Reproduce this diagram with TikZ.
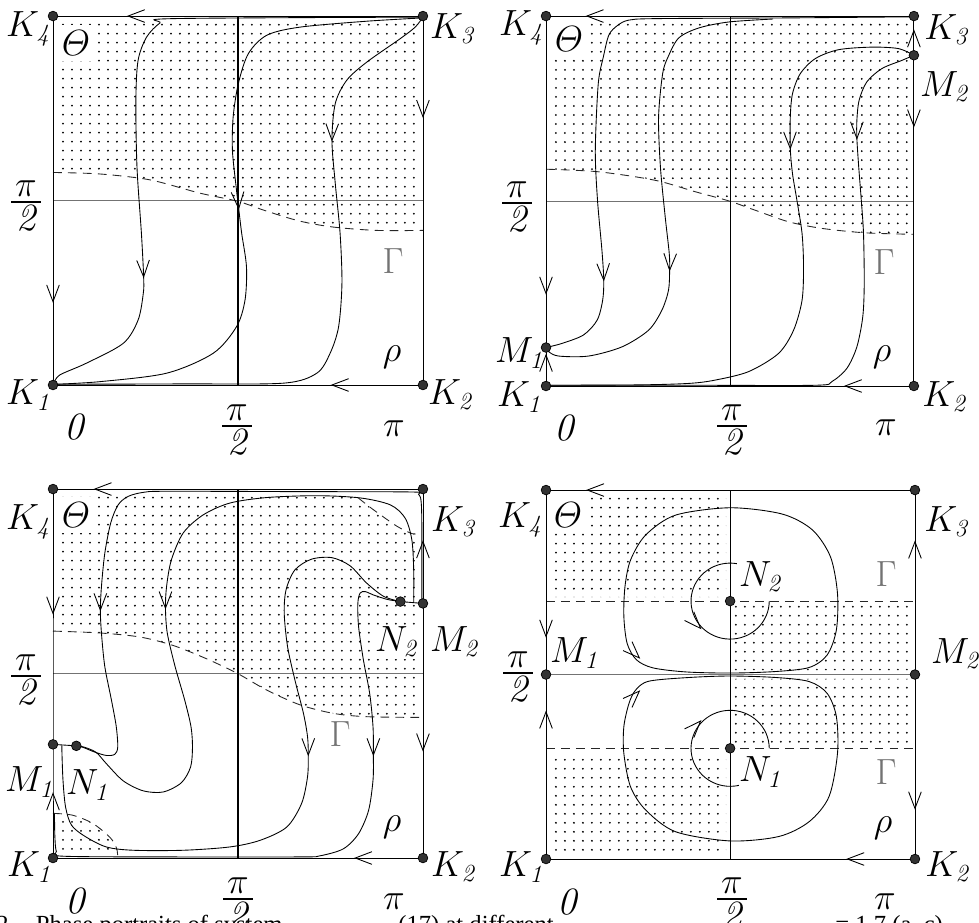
\documentclass[tikz,border=0pt]{standalone}
\usepackage{amsmath}
\usepackage{fontspec}
\newfontfamily\capfont{Liberation Serif}
\newcommand\dotgrid{\foreach \j in {0,...,39}{\draw[line width=1.15pt,line cap=round,dash pattern=on 0pt off 5.12pt] (2.7,2.5+2.44*\j) -- (99.5,2.5+2.44*\j);}}
\newcommand\pihalf{\ensuremath{\tfrac{\displaystyle\mkern2mu\pi\mkern2mu}{\displaystyle\mathit{2}}}}
\begin{document}
\begin{tikzpicture}[x=0.02cm,y=-0.02cm,line width=0.5pt,
  mk/.style={circle,fill=black!80,draw=black,line width=0.4pt,inner sep=0pt,minimum size=5.5pt},
  klab/.style={font=\fontsize{20}{24}\selectfont,inner sep=0pt},
  blab/.style={font=\fontsize{22}{26}\selectfont,inner sep=0pt},
  flab/.style={font=\fontsize{22}{26}\selectfont,inner sep=0pt},
  glab/.style={blab,text=black!55},
  thlab/.style={klab,fill=white,inner sep=3pt},
  boxln/.style={line width=0.5pt},
  midln/.style={line width=0.6pt},
  halfln/.style={line width=0.5pt,black!55},
  gam/.style={dash pattern=on 5pt off 3.5pt,line width=0.5pt,black!85},
  caplab/.style={anchor=base west,inner sep=0pt,font=\capfont\fontsize{14}{17}\selectfont},
  vhead/.pic={\draw[line width=0.5pt] (-9.5pt,3.6pt) -- (0,0) -- (-9.5pt,-3.6pt);}]
\useasboundingbox (0,0) rectangle (979,922);
\clip (0,0) rectangle (979,922);

% ================= Panel 1 =================
\begin{scope}[shift={(53,385)},x=0.074cm,y=0.0738cm]
\coordinate (aK1) at (0,0); \coordinate (aK2) at (100,0);
\coordinate (aK3) at (100,100); \coordinate (aK4) at (0,100);
\coordinate (aB) at (50,0); \coordinate (aT) at (50,100);
\coordinate (aL) at (0,50); \coordinate (aR) at (100,50);
\begin{scope}
\clip (0,100) -- (100,100) -- plot[smooth] coordinates {(100,41.9) (87.5,41.9) (75.8,42.8) (66.8,44.4) (57.8,47.1) (49.9,49.8) (39.7,52.0) (26.2,55.6) (12.6,57.2) (0,57.6)} -- cycle;
\dotgrid
\end{scope}
\draw[halfln] (aL) -- (aR);
\draw[gam] plot[smooth] coordinates {(0,57.6) (12.6,57.2) (26.2,55.6) (39.7,52.0) (49.9,49.8) (57.8,47.1) (66.8,44.4) (75.8,42.8) (87.5,41.9) (100,41.9)};
\draw[boxln] (aK1) -- (aK2) -- (aK3) -- (aK4) -- cycle;
\draw[midln] (aB) -- (aT);
\draw plot[smooth] coordinates {(100,99.7) (32.5,99.3) (28.9,98.1) (25.3,94.3) (23.0,88.0) (22.4,77.2) (22.7,59.1) (23.9,41.1) (24.5,29.3) (24.4,24.8) (23.0,17.6) (19.0,11.3) (9.0,5.9) (1.8,2.7) (0.3,0.5)};
\draw plot[smooth] coordinates {(100,99.5) (84.8,98.6) (66.8,97.0) (57.8,94.8) (52.8,89.8) (50.1,81.7) (48.7,72.7) (48.5,63.6) (49.5,53.7) (50.2,47.8) (51.0,41.1) (52.3,32.0) (51.9,23.0) (49.6,15.8) (43.3,8.6) (30.7,3.2) (12.6,0.9) (0.5,0.2)};
\draw plot[smooth] coordinates {(100,99.7) (97.9,97.0) (93.9,93.9) (84.8,87.5) (79.4,82.6) (76.3,76.3) (75.4,66.3) (76.3,54.6) (77.6,41.1) (78.1,27.5) (77.2,15.8) (74.9,8.6) (71.3,3.2) (62.3,0.5) (35,0.3) (0.5,0.2)};
\pic[rotate=180] at (20.3,100) {vhead};
\pic[rotate=-90] at (100,72.7) {vhead};
\pic[rotate=180] at (75.4,0) {vhead};
\pic[rotate=-90] at (0,22.6) {vhead};
\pic[rotate=-88] at (24.5,29.3) {vhead};
\pic[rotate=-86] at (50.2,47.8) {vhead};
\pic[rotate=-91] at (75.4,66.3) {vhead};
\node[mk] (aK1m) at (aK1) {}; \node[mk] (aK2m) at (aK2) {};
\node[mk] (aK3m) at (aK3) {}; \node[mk] (aK4m) at (aK4) {};
\end{scope}

% ================= Panel 2 =================
\begin{scope}[shift={(546,386)},x=0.0736cm,y=0.0740cm]
\coordinate (bK1) at (0,0); \coordinate (bK2) at (100,0);
\coordinate (bK3) at (100,100); \coordinate (bK4) at (0,100);
\coordinate (bM1) at (0,10.4); \coordinate (bM2) at (100,89.4);
\coordinate (bB) at (50,0); \coordinate (bT) at (50,100);
\coordinate (bL) at (0,50); \coordinate (bR) at (100,50);
\begin{scope}
\clip (0,100) -- (100,100) -- plot[smooth] coordinates {(100,41.0) (86.8,41.4) (75.0,42.6) (65.9,44.4) (56.9,47.5) (49.8,50.0) (40.6,52.5) (29.7,55.6) (14.3,57.9) (0,58.6)} -- cycle;
\dotgrid
\end{scope}
\draw[halfln] (bL) -- (bR);
\draw[gam] plot[smooth] coordinates {(0,58.6) (14.3,57.9) (29.7,55.6) (40.6,52.5) (49.8,50.0) (56.9,47.5) (65.9,44.4) (75.0,42.6) (86.8,41.4) (100,41.0)};
\draw[boxln] (bK1) -- (bM1) -- (bK4) -- (bK3) -- (bM2) -- (bK2) -- cycle;
\draw[boxln] (bB) -- (bT);
\draw plot[smooth] coordinates {(100,99.8) (65.9,99.5) (29.7,99.3) (22.5,98.9) (19.5,97.5) (17.1,94.9) (15.6,89) (14.2,81.7) (13.4,63.7) (14.0,50.2) (15.2,36.7) (15.7,28.6) (15.4,23.2) (13.9,17.8) (10.2,13.8) (4.3,11.5) (0,10.4)};
\draw plot[smooth] coordinates {(61.7,99.2) (49.7,98.4) (41.6,96.8) (36.1,94.1) (33.2,89) (31.7,84.4) (30.6,72.7) (31.1,59.2) (32.4,45.7) (33.5,35.8) (33.6,31.3) (33.3,25.9) (31.5,20.5) (27.9,15.1) (20.7,10.6) (11.6,8.1) (3.4,8.1) (0.7,9.3) (0,10.4)};
\draw plot[smooth] coordinates {(100,89.4) (95.8,91.2) (88.6,91.6) (79.5,90.9) (73.2,88.5) (69.1,84.4) (67.0,79.0) (66.4,72.7) (66.4,64.2) (67.0,57.4) (68.2,50.2) (69.6,41.2) (70.0,32.2) (69.6,23.2) (67.3,15.1) (63.2,8.8) (55.1,3.9) (46.0,1.6) (38.8,0.7) (25,0.3) (0.5,0.2)};
\draw plot[smooth] coordinates {(100,89.4) (96.7,88.0) (91.3,85.8) (87.2,82.2) (85.1,77.2) (84.5,71.8) (84.5,66.9) (85.0,59.2) (85.7,50.2) (86.3,41.2) (86.5,27.7) (86.1,18.7) (84.5,10.6) (81.8,4.8) (77.7,1.2) (73.2,0.2) (40,0.2) (0.5,0.2)};
\pic[rotate=180] at (11.1,100) {vhead};
\pic[rotate=90] at (100,96.1) {vhead};
\pic[rotate=-90] at (100,70.2) {vhead};
\pic[rotate=180] at (81.3,0) {vhead};
\pic[rotate=-90] at (0,25.0) {vhead};
\pic[rotate=90] at (0,8.4) {vhead};
\pic[rotate=-88] at (15.7,28.6) {vhead};
\pic[rotate=-92] at (33.6,31.3) {vhead};
\pic[rotate=-89] at (66.4,64.2) {vhead};
\pic[rotate=-90] at (84.5,66.9) {vhead};
\node[mk] (bK1m) at (bK1) {}; \node[mk] (bK2m) at (bK2) {};
\node[mk] (bK3m) at (bK3) {}; \node[mk] (bK4m) at (bK4) {};
\node[mk] (bM1m) at (bM1) {}; \node[mk] (bM2m) at (bM2) {};
\end{scope}

% ================= Panel 3 =================
\begin{scope}[shift={(53,858)},x=0.074cm,y=0.0738cm]
\coordinate (cK1) at (0,0); \coordinate (cK2) at (100,0);
\coordinate (cK3) at (100,100); \coordinate (cK4) at (0,100);
\coordinate (cM1) at (0,30.8); \coordinate (cN1) at (6.3,30.4);
\coordinate (cM2) at (100,69.0); \coordinate (cN2) at (93.9,69.5);
\coordinate (cB) at (50,0); \coordinate (cT) at (50,100);
\coordinate (cL) at (0,50); \coordinate (cR) at (100,50);
\begin{scope}
\clip (0,100) -- (82.5,100) -- plot[smooth] coordinates {(82.5,97.6) (86.6,94.4) (93.0,89.9) (97.1,87.9) (98.8,87.9)} -- (100,87.9) -- (100,38.1) -- plot[smooth] coordinates {(100,38.1) (84.8,38.3) (75.8,39.2) (66.8,41.5) (57.8,45.5) (49.9,50.0) (41.5,54.0) (32.5,57.6) (23.5,59.9) (12.6,61.0) (0,61.5)} -- cycle
  (0,0) -- (0,12.1) -- plot[smooth] coordinates {(0,12.1) (5.3,11.6) (10.7,9.4) (15.4,5.6) (17.2,2.6) (17.5,0)} -- cycle;
\dotgrid
\end{scope}
\draw[halfln] (cL) -- (cR);
\draw[gam] plot[smooth] coordinates {(0,61.5) (12.6,61.0) (23.5,59.9) (32.5,57.6) (41.5,54.0) (49.9,50.0) (57.8,45.5) (66.8,41.5) (75.8,39.2) (84.8,38.3) (100,38.1)};
\draw[gam] plot[smooth] coordinates {(82.5,97.6) (86.6,94.4) (93.0,89.9) (97.1,87.9) (98.8,87.9)};
\draw[gam] plot[smooth] coordinates {(0,12.1) (5.3,11.6) (10.7,9.4) (15.4,5.6) (17.2,2.6) (17.5,0)};
\draw[boxln] (cK1) -- (cM1) -- (cK4) -- (cK3) -- (cM2) -- (cK2) -- cycle;
\draw[midln] (cB) -- (cT);
\draw[boxln] (cM1) -- (cN1);
\draw[boxln] (cN2) -- (cM2);
% Q
\draw plot[smooth] coordinates {(99.7,70.0) (99.7,89.9) (99.5,96.7) (98.8,98.6) (97.0,99.2) (66.8,99.3) (30.7,99.4) (24.4,99.1) (20.3,98.0) (17.6,95.7) (15.6,90.8) (14.0,82.6) (13.1,73.6) (12.8,67.2) (13.1,60.9) (14.0,51.9) (15.8,42.8) (17.1,35.6) (17.5,30.1) (16.7,28.1) (14.4,27.8) (11.3,28.7) (8.1,30.0) (6.3,30.4)};
% L
\draw plot[smooth] coordinates {(97.5,69.2) (97.5,78.1) (97.0,86.2) (95.2,92.1) (91.2,95.7) (83.0,97.6) (71.3,98.2) (57.8,97.7) (47.8,96.2) (40.6,93.0) (35.2,88.1) (32.0,80.8) (30.7,73.6) (30.4,67.7) (30.9,60.9) (33.0,51.9) (35.6,42.8) (37.3,35.6) (37.7,30.1) (37.2,24.7) (34.7,20.4) (29.8,17.9) (24.4,18.2) (19.0,20.9) (14.4,25.6) (11.7,28.6) (8.6,30.0) (6.3,30.4)};
% R
\draw plot[smooth] coordinates {(93.9,69.5) (89.4,70.9) (84.8,74.5) (80.3,79.2) (75.4,81.4) (69.9,81.0) (65.4,78.1) (63.0,72.7) (62.5,66.3) (63.4,57.3) (65.4,48.2) (67.7,39.2) (68.8,32.9) (69.0,27.9) (68.8,22.0) (67.2,14.8) (63.2,8.4) (56.0,4.8) (47.8,3.0) (35.2,2.1) (21.7,2.1) (14.4,3.0) (8.6,5.9) (5.0,8.9) (3.4,13.8) (2.7,21.1) (2.4,29.2) (2.4,30.5)};
% S
\draw plot[smooth] coordinates {(93.9,69.5) (90.3,70.1) (86.6,71.3) (84.4,72.2) (83.0,71.8) (82.4,69.0) (82.6,62.7) (83.9,53.7) (85.6,44.6) (86.5,35.6) (86.6,27.9) (86.5,21.1) (85.3,12.9) (82.6,6.6) (78.5,2.5) (72.2,0.6) (66.8,0.3) (30,0.3) (2.5,0.5) (0.9,1.8) (0.5,6) (0.4,12)};
\pic[rotate=180] at (11.3,100) {vhead};
\pic[rotate=90] at (100,85.8) {vhead};
\pic[rotate=-90] at (100,29.2) {vhead};
\pic[rotate=-90] at (0,66.3) {vhead};
\pic[rotate=90] at (0,17.5) {vhead};
\pic[rotate=180] at (81.7,0) {vhead};
\pic[rotate=-90] at (12.8,67.2) {vhead};
\pic[rotate=-90] at (30.4,67.7) {vhead};
\pic[rotate=-90] at (69.0,27.9) {vhead};
\pic[rotate=-90] at (86.6,27.9) {vhead};
\node[mk] (cK1m) at (cK1) {}; \node[mk] (cK2m) at (cK2) {};
\node[mk] (cK3m) at (cK3) {}; \node[mk] (cK4m) at (cK4) {};
\node[mk] (cM1m) at (cM1) {}; \node[mk] (cM2m) at (cM2) {};
\node[mk] (cN1m) at (cN1) {}; \node[mk] (cN2m) at (cN2) {};
\end{scope}

% ================= Panel 4 =================
\begin{scope}[shift={(546,859)},x=0.0738cm,y=0.0738cm]
\coordinate (dK1) at (0,0); \coordinate (dK2) at (100,0);
\coordinate (dK3) at (100,100); \coordinate (dK4) at (0,100);
\coordinate (dM1) at (0,50); \coordinate (dM2) at (100,50);
\coordinate (dN1) at (49.9,30.0); \coordinate (dN2) at (49.9,69.9);
\coordinate (dB) at (49.9,0); \coordinate (dT) at (49.9,100);
\coordinate (dGa) at (0,69.9); \coordinate (dGb) at (100,69.9);
\coordinate (dGc) at (0,30.0); \coordinate (dGd) at (100,30.0);
\begin{scope}
\clip (0.5,71) rectangle (48.8,99) (51,51.2) rectangle (99,68.8) (51,31.2) rectangle (99,48.8) (0.5,1) rectangle (48.8,28.8);
\dotgrid
\end{scope}
\draw[halfln] (dM1) -- (dM2);
\draw[gam] (dGa) -- (dGb);
\draw[gam] (dGc) -- (dGd);
\draw[boxln] (dK1) -- (dM1) -- (dK4) -- (dK3) -- (dM2) -- (dK2) -- cycle;
\draw[boxln] (dB) -- (dT);
\draw plot[smooth cycle] coordinates {(49.9,50.4) (62,50.8) (71.3,51.9) (76.2,55.3) (78.7,62.1) (79.0,72.0) (77.1,81.9) (72.2,89.2) (64.0,93.5) (49.9,95.2) (35.1,93.2) (27.0,87.8) (22.9,81.0) (21.4,73.8) (21.1,65.7) (22.0,58.4) (24.5,54.0) (29,51.8) (38,50.7)};
\draw plot[smooth cycle] coordinates {(49.9,49.6) (62.2,49.2) (71.3,48.1) (76.2,44.9) (78.7,38.6) (79.0,28.6) (76.7,16.9) (71.3,10.1) (63.1,6.1) (49.9,4.9) (35.1,7.4) (27.0,13.3) (22.9,19.6) (21.1,28.6) (21.1,35.9) (22.5,42.2) (24.3,45.8) (27.9,48.2) (38.8,49.2)};
\draw plot[domain=80:360,samples=50,smooth] ({49.9+10.6*cos(\x)},{69.9+10.3*sin(\x)});
\draw plot[domain=0:283,samples=50,smooth] ({49.9+10.6*cos(\x)},{30.0+10.3*sin(\x)});
\pic[rotate=180] at (11.2,100) {vhead};
\pic[rotate=90] at (100,86.0) {vhead};
\pic[rotate=-90] at (100,13.7) {vhead};
\pic[rotate=-90] at (0,60.3) {vhead};
\pic[rotate=90] at (0,39.9) {vhead};
\pic[rotate=180] at (81.7,0) {vhead};
\pic[rotate=-45] at (25.3,54.5) {vhead};
\pic[rotate=-47] at (41.9,62.5) {vhead};
\pic[rotate=45] at (25.3,45.5) {vhead};
\pic[rotate=47] at (41.9,37.4) {vhead};
\node[mk] (dK1m) at (dK1) {}; \node[mk] (dK2m) at (dK2) {};
\node[mk] (dK3m) at (dK3) {}; \node[mk] (dK4m) at (dK4) {};
\node[mk] (dM1m) at (dM1) {}; \node[mk] (dM2m) at (dM2) {};
\node[mk] (dN1m) at (dN1) {}; \node[mk] (dN2m) at (dN2) {};
\end{scope}

% ================= Labels =================
% panel 1
\node[klab] (aK4l) at (28,29) {$K_{\mathit{4}}$};
\node[klab] (aK3l) at (452,29) {$K_{\mathit{3}}$};
\node[klab] (aK1l) at (28,395) {$K_{\mathit{1}}$};
\node[klab] (aK2l) at (450,395) {$K_{\mathit{2}}$};
\node[thlab] (aTh) at (76,43) {$\varTheta$};
\node[blab] (a0) at (74,427) {$\mathit{0}$};
\node[flab] (aPb) at (237,430) {\pihalf};
\node[blab] (aPi) at (394,429) {$\pi$};
\node[flab] (aPl) at (26,206) {\pihalf};
\node[glab] (aG) at (393,261) {$\Gamma$};
\node[blab] (aRho) at (392,357) {$\rho$};
% panel 2
\node[klab] (bK4l) at (521,28) {$K_{\mathit{4}}$};
\node[klab] (bK3l) at (946,30) {$K_{\mathit{3}}$};
\node[klab] (bK1l) at (519,397) {$K_{\mathit{1}}$};
\node[klab] (bK2l) at (944,397) {$K_{\mathit{2}}$};
\node[klab] (bM1l) at (519,353) {$M_{\mathit{1}}$};
\node[klab] (bM2l) at (944,87) {$M_{\mathit{2}}$};
\node[thlab] (bTh) at (569,39) {$\varTheta$};
\node[blab] (b0) at (564,428) {$\mathit{0}$};
\node[flab] (bPb) at (732,430) {\pihalf};
\node[blab] (bPi) at (886,428) {$\pi$};
\node[flab] (bPl) at (517,207) {\pihalf};
\node[glab] (bG) at (884,262) {$\Gamma$};
\node[blab] (bRho) at (882,357) {$\rho$};
% panel 3
\node[klab] (cK4l) at (28,522) {$K_{\mathit{4}}$};
\node[klab] (cK3l) at (453,522) {$K_{\mathit{3}}$};
\node[klab] (cK1l) at (29,867) {$K_{\mathit{1}}$};
\node[klab] (cK2l) at (453,867) {$K_{\mathit{2}}$};
\node[klab] (cM1l) at (29,782) {$M_{\mathit{1}}$};
\node[klab] (cN1l) at (87,785) {$N_{\mathit{1}}$};
\node[klab] (cM2l) at (454,642) {$M_{\mathit{2}}$};
\node[klab,fill=white,inner sep=1pt] (cN2l) at (396,642) {$N_{\mathit{2}}$};
\node[thlab] (cTh) at (76,515) {$\varTheta$};
\node[blab] (c0) at (75,901) {$\mathit{0}$};
\node[flab] (cPb) at (238,903) {\pihalf};
\node[blab] (cPi) at (394,902) {$\pi$};
\node[flab] (cPl) at (26,680) {\pihalf};
\node[glab] (cG) at (340,734) {$\Gamma$};
\node[blab] (cRho) at (392,827) {$\rho$};
% panel 4
\node[klab] (dK4l) at (520,520) {$K_{\mathit{4}}$};
\node[klab] (dK3l) at (946,522) {$K_{\mathit{3}}$};
\node[klab] (dK1l) at (521,867) {$K_{\mathit{1}}$};
\node[klab] (dK2l) at (947,867) {$K_{\mathit{2}}$};
\node[klab] (dM1l) at (574,653) {$M_{\mathit{1}}$};
\node[klab] (dM2l) at (955,654) {$M_{\mathit{2}}$};
\node[klab] (dN1l) at (760,772) {$N_{\mathit{1}}$};
\node[klab] (dN2l) at (760,577) {$N_{\mathit{2}}$};
\node[thlab] (dTh) at (568,515) {$\varTheta$};
\node[blab] (d0) at (567,902) {$\mathit{0}$};
\node[flab] (dPb) at (732,903) {\pihalf};
\node[blab] (dPi) at (885,902) {$\pi$};
\node[flab] (dPl) at (518,677) {\pihalf};
\node[glab] (dGu) at (886,574) {$\Gamma$};
\node[glab] (dGl) at (886,772) {$\Gamma$};
\node[blab] (dRho) at (883,828) {$\rho$};
% caption (cut off at the lower edge)
\node[caplab] (capA) at (-4,932) {2.\hspace{12pt}Phase portraits of system};
\node[caplab] (capB) at (398,932) {(17) at different};
\node[caplab] (capC) at (835,932) {= 1.7 (a, c)};
\end{tikzpicture}
\end{document}
